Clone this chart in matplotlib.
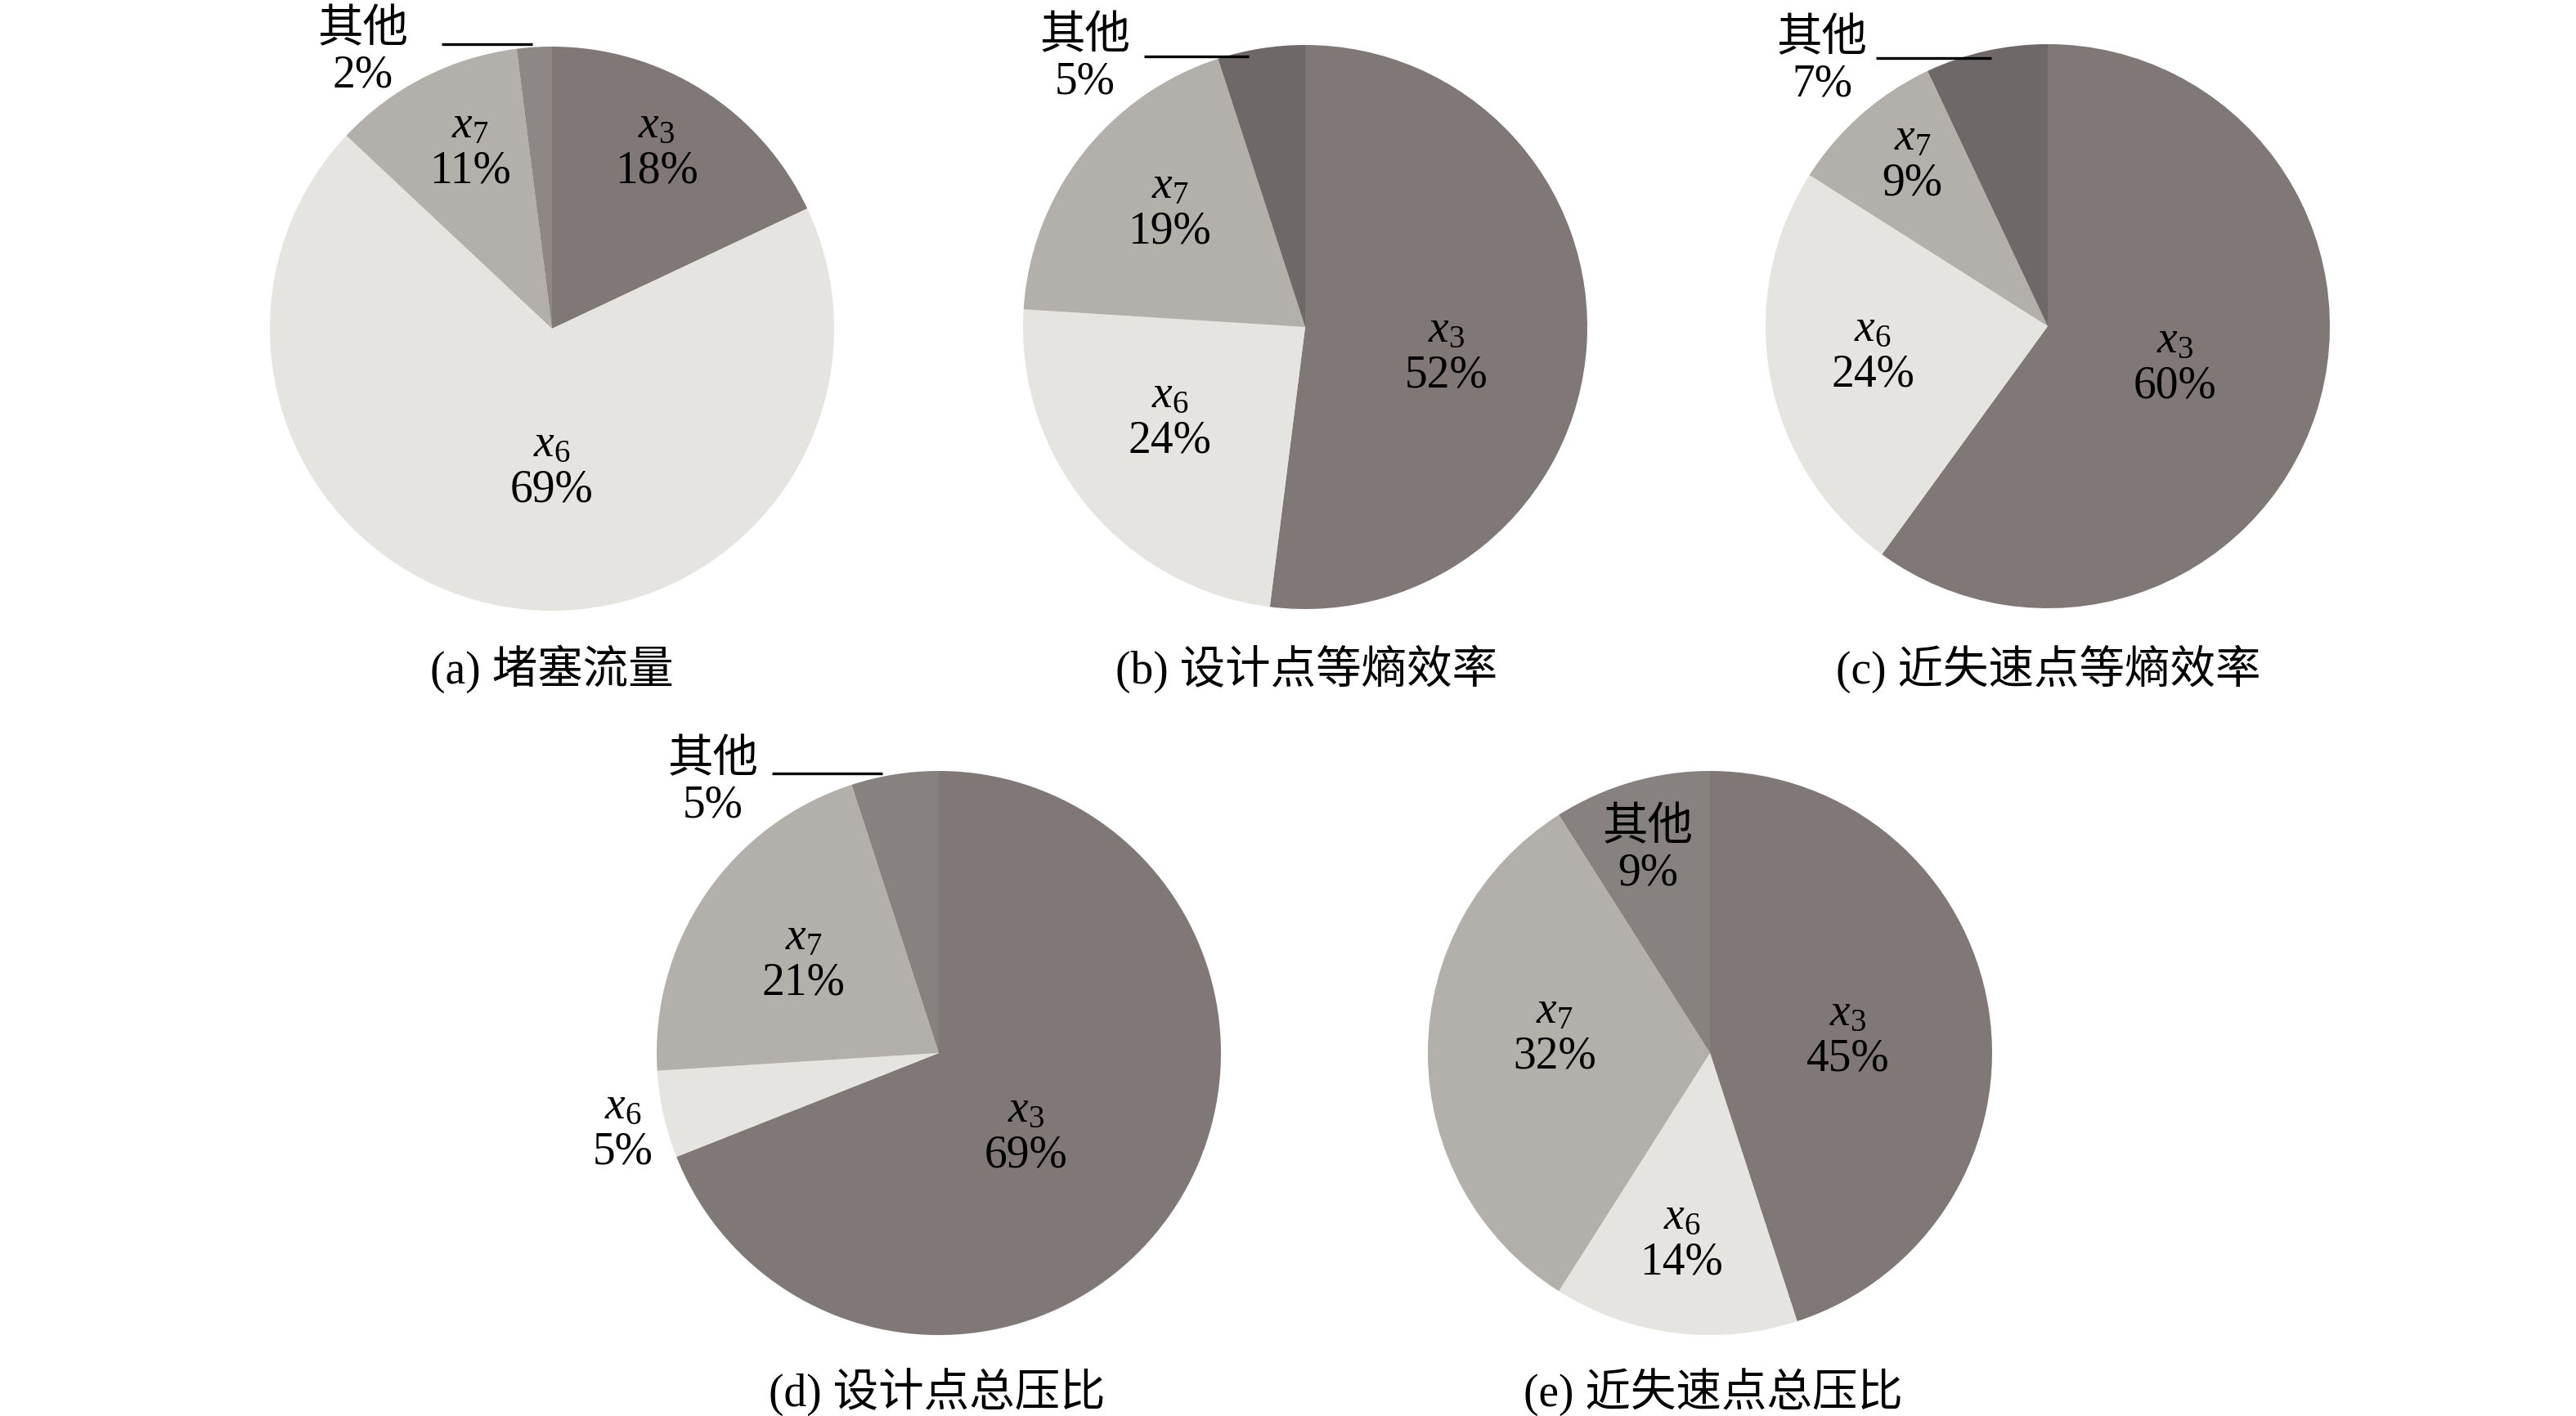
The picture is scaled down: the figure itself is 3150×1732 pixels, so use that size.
import matplotlib
matplotlib.use("Agg")
import matplotlib.pyplot as plt

plt.rcParams['font.family'] = ['Liberation Serif', 'Noto Sans CJK SC', 'DejaVu Sans']
plt.rcParams['mathtext.fontset'] = 'custom'
plt.rcParams['mathtext.rm'] = 'Liberation Serif'
plt.rcParams['mathtext.it'] = 'Liberation Serif:italic'

# ---- data ----
categories = ['$x_3$', '$x_6$', '$x_7$', '其他']
titles = ['(a) 堵塞流量', '(b) 设计点等熵效率', '(c) 近失速点等熵效率',
          '(d) 设计点总压比', '(e) 近失速点总压比']
vals_a = [18, 69, 11, 2]
vals_b = [52, 24, 19, 5]
vals_c = [60, 24, 9, 7]
vals_d = [69, 5, 21, 5]
vals_e = [45, 14, 32, 9]
all_vals = [vals_a, vals_b, vals_c, vals_d, vals_e]

# ---- styles / layout ----
W, H, DPI = 3150, 1733, 100
R = 345  # pie radius in px
centers = [(675, 403), (1596, 401), (2504, 400), (1148, 1289), (2091, 1289)]
title_pos = [(675, 818), (1598, 818), (2505, 818), (1146, 1703), (2095, 1703)]
base_colors = ['#7f7877', '#e5e4e0', '#b3afab']
other_colors = ['#8d8786', '#6f6869', '#6f6869', '#878180', '#878180']
# label centres (in pie-radius units) for x3, x6, x7, other
label_pos = [
    [(0.37, 0.64), (0.0, -0.49), (-0.29, 0.64), (-0.67, 0.98)],
    [(0.50, -0.09), (-0.48, -0.32), (-0.48, 0.42), (-0.78, 0.95)],
    [(0.45, -0.13), (-0.62, -0.09), (-0.48, 0.59), (-0.80, 0.94)],
    [(0.31, -0.28), (-1.12, -0.27), (-0.48, 0.33), (-0.80, 0.96)],
    [(0.49, 0.06), (-0.10, -0.66), (-0.55, 0.07), (-0.22, 0.72)],
]
leader = [(-0.39, -0.07, 1.01), (-0.57, -0.20, 0.96), (-0.61, -0.20, 0.95),
          (-0.59, -0.20, 0.99), None]
FS = 40
DY = 0.08

fig = plt.figure(figsize=(W / DPI, H / DPI), dpi=DPI)
fig.patch.set_facecolor('white')

for i, vals in enumerate(all_vals):
    cx, cy = centers[i]
    ax = fig.add_axes([(cx - R) / W, 1 - (cy + R) / H, 2 * R / W, 2 * R / H])
    cols = base_colors + [other_colors[i]]
    ax.pie(vals, colors=cols, startangle=90, counterclock=False, radius=1,
           wedgeprops=dict(linewidth=0, antialiased=True))
    ax.set_xlim(-1, 1)
    ax.set_ylim(-1, 1)
    ax.set_aspect('equal')
    ax.axis('off')
    for j, (lx, ly) in enumerate(label_pos[i]):
        ax.text(lx, ly + DY, categories[j], ha='center', va='center',
                fontsize=FS, clip_on=False)
        ax.text(lx, ly - DY, f'{vals[j]}%', ha='center', va='center',
                fontsize=FS, clip_on=False)
    if leader[i] is not None:
        x0, x1, yl = leader[i]
        ax.plot([x0, x1], [yl, yl], color='black', lw=2.4, clip_on=False,
                solid_capstyle='butt')
    tx, ty = title_pos[i]
    fig.text(tx / W, 1 - ty / H, titles[i], ha='center', va='center',
             fontsize=FS)

fig.savefig('out.png', dpi=DPI, facecolor='white')
